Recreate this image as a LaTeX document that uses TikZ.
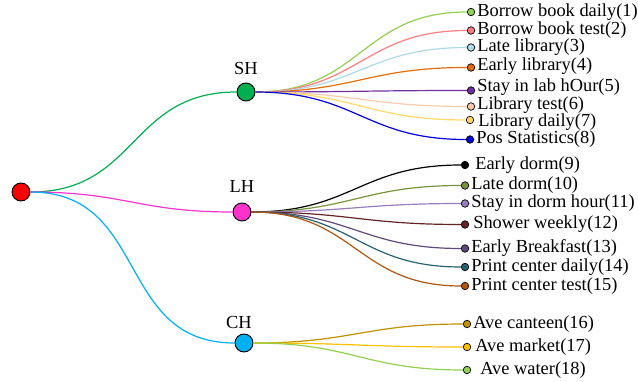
\documentclass[tikz,border=0pt]{standalone}
\usepackage{fontspec}
\setmainfont{Liberation Serif}
\usepackage{xcolor}
\usepackage{tikz}
\usetikzlibrary{shapes.geometric}

\definecolor{rootred}{RGB}{255,0,0}
\definecolor{shgreen}{RGB}{0,176,80}
\definecolor{lhpink}{RGB}{255,51,204}
\definecolor{chblue}{RGB}{0,176,240}
\definecolor{cone}{RGB}{146,208,80}
\definecolor{ctwo}{RGB}{255,124,128}
\definecolor{cthree}{RGB}{173,216,230}
\definecolor{cfour}{RGB}{228,108,10}
\definecolor{cfive}{RGB}{112,48,160}
\definecolor{csix}{RGB}{248,203,173}
\definecolor{cseven}{RGB}{255,217,102}
\definecolor{ceight}{RGB}{0,0,225}
\definecolor{cnine}{RGB}{0,0,0}
\definecolor{cten}{RGB}{119,147,60}
\definecolor{celeven}{RGB}{150,125,190}
\definecolor{ctwelve}{RGB}{99,37,35}
\definecolor{cthirteen}{RGB}{96,74,123}
\definecolor{cfourteen}{RGB}{38,98,112}
\definecolor{cfifteen}{RGB}{175,85,15}
\definecolor{csixteen}{RGB}{191,144,0}
\definecolor{cseventeen}{RGB}{255,192,0}
\definecolor{ceighteen}{RGB}{146,208,80}

\begin{document}
\begin{tikzpicture}[x=1pt, y=-1pt,
        hub/.style={circle, draw=black, line width=0.9pt, minimum size=18pt, inner sep=0pt},
        leaf/.style={circle, draw=black, line width=0.7pt, minimum size=7.5pt, inner sep=0pt},
        txt/.style={font=\fontsize{18.4}{18}\selectfont, inner xsep=2pt, inner ysep=0pt},
        link/.style={line width=1.2pt, out=0, in=180, looseness=1.2}]
        \useasboundingbox (0, 0) rectangle (638, 382);

        \node[hub, fill = rootred] (root) at (21, 192) {};
        \node[hub, fill = shgreen, label = {[txt, label distance=8pt]above:SH}] (sh) at (246, 92) {};
        \node[hub, fill = lhpink, label = {[txt, label distance=10pt]above:LH}] (lh) at (242, 212) {};
        \node[hub, fill = chblue, label = {[txt, label distance=5pt, xshift=-5pt]above:CH}] (ch) at (244, 343) {};

        \node[leaf, fill = cone, label = {[txt]right:Borrow book daily(1)}] (b1) at (471, 12) {};
        \node[leaf, fill = ctwo, label = {[txt]right:Borrow book test(2)}] (b2) at (471, 30.5) {};
        \node[leaf, fill = cthree, label = {[txt]right:Late library(3)}] (b3) at (471, 47.5) {};
        \node[leaf, fill = cfour, label = {[txt, yshift=1pt]right:Early library(4)}] (b4) at (471, 67.5) {};
        \node[leaf, fill = cfive, label = {[txt, yshift=3.5pt]right:Stay in lab hOur(5)}] (b5) at (471, 90.5) {};
        \node[leaf, fill = csix, label = {[txt, yshift=1pt]right:Library test(6)}] (b6) at (471, 106.5) {};
        \node[leaf, fill = cseven, label = {[txt, label distance=2pt, yshift=-2.5pt]right:Library daily(7)}] (b7) at (470, 120) {};
        \node[leaf, fill = ceight, label = {[txt]right:Pos Statistics(8)}] (b8) at (470, 139.5) {};

        \node[leaf, fill = cnine, label = {[txt, label distance=4pt]right:Early dorm(9)}] (b9) at (465, 165) {};
        \node[leaf, fill = cten, label = {[txt]right:Late dorm(10)}] (b10) at (465, 185.5) {};
        \node[leaf, fill = celeven, label = {[txt]right:Stay in dorm hour(11)}] (b11) at (465, 203.5) {};
        \node[leaf, fill = ctwelve, label = {[txt, label distance=2pt]right:Shower weekly(12)}] (b12) at (465, 224.5) {};
        \node[leaf, fill = cthirteen, label = {[txt]right:Early Breakfast(13)}] (b13) at (465, 248.5) {};
        \node[leaf, fill = cfourteen, label = {[txt]right:Print center daily(14)}] (b14) at (465, 267) {};
        \node[leaf, fill = cfifteen, label = {[txt]right:Print center test(15)}] (b15) at (465, 286) {};

        \node[leaf, fill = csixteen, label = {[txt]right:Ave canteen(16)}] (b16) at (467, 324) {};
        \node[leaf, fill = cseventeen, label = {[txt, label distance=2pt]right:Ave market(17)}] (b17) at (467, 347) {};
        \node[leaf, fill = ceighteen, label = {[txt, label distance=7pt]right:Ave water(18)}] (b18) at (467, 370) {};

        \draw[link, shgreen] (root) to (sh);
        \draw[link, lhpink] (root) to (lh);
        \draw[link, chblue] (root) to (ch);

        \draw[link, cone] (sh) to (b1);
        \draw[link, ctwo] (sh) to (b2);
        \draw[link, cthree] (sh) to (b3);
        \draw[link, cfour] (sh) to (b4);
        \draw[link, cfive] (sh) to (b5);
        \draw[link, csix] (sh) to (b6);
        \draw[link, cseven] (sh) to (b7);
        \draw[link, ceight] (sh) to (b8);

        \draw[link, cnine] (lh) to (b9);
        \draw[link, cten] (lh) to (b10);
        \draw[link, celeven] (lh) to (b11);
        \draw[link, ctwelve] (lh) to (b12);
        \draw[link, cthirteen] (lh) to (b13);
        \draw[link, cfourteen] (lh) to (b14);
        \draw[link, cfifteen] (lh) to (b15);

        \draw[link, csixteen] (ch) to (b16);
        \draw[link, cseventeen] (ch) to (b17);
        \draw[link, ceighteen] (ch) to (b18);
    \end{tikzpicture}
\end{document}
